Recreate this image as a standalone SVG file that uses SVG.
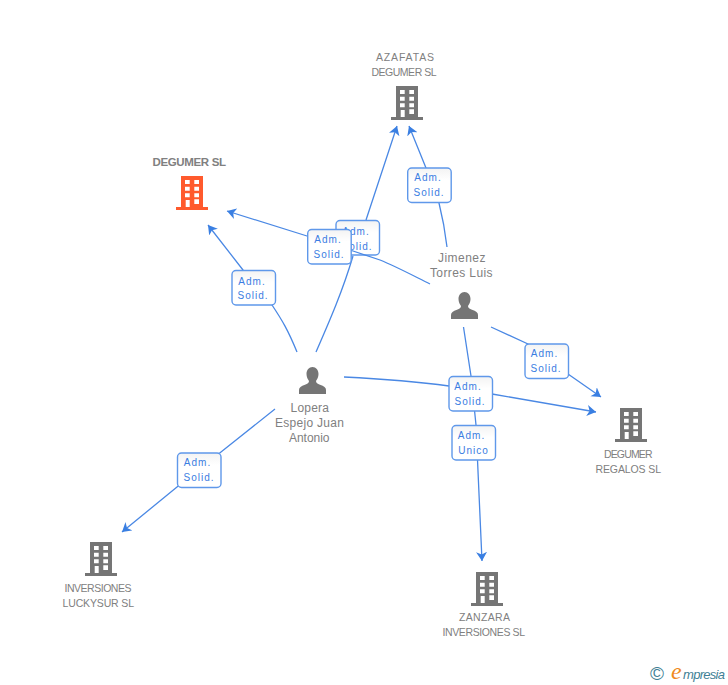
<svg xmlns="http://www.w3.org/2000/svg" width="728" height="685" viewBox="0 0 728 685">
<style>
text{font-family:"Liberation Sans",Arial,sans-serif}
.n{font-size:10.500px;fill:#808080}
.p{font-size:12px;fill:#808080}
.l{font-size:10px;fill:#3b7de2;text-anchor:middle;letter-spacing:1px}
.b{fill:url(#lg);stroke:#5f98ea;stroke-width:1.4}
.c{fill:none;stroke:#4a88e4;stroke-width:1.3;marker-end:url(#ah)}
</style>
<defs>
<linearGradient id="lg" x1="0" y1="0" x2="0" y2="1"><stop offset="0" stop-color="#f3f3f3"/><stop offset=".35" stop-color="#fff"/><stop offset="1" stop-color="#fff"/></linearGradient>
<marker id="ah" markerUnits="userSpaceOnUse" markerWidth="12" markerHeight="12" refX="9" refY="6" orient="auto"><path d="M0 .5L9 6L0 11.500L2.500 6Z" fill="#3a7fe2"/></marker>
<symbol id="bld" width="32" height="34" viewBox="0 0 32 34" overflow="visible">
<path fill-rule="evenodd" d="M5 0H27V31H32V34H0V31H5ZM9 4V8H13.700V4ZM18.300 4V8H23V4ZM9 10.700V14.700H13.700V10.700ZM18.300 10.700V14.700H23V10.700ZM9 17.300V21.300H13.700V17.300ZM18.300 17.300V21.300H23V17.300ZM9.700 24V31H13.700V24ZM18.300 23.300V28H23V23.300Z"/>
</symbol>
<symbol id="per" width="27" height="27" viewBox="0 0 27 27" overflow="visible">
<path d="M13.500 0C17 0 19.500 3 19.500 7C19.500 10 18.300 12.300 17 14C17 16 18.500 16.700 21 17.700C25 19 27 20.500 27 23V27H0V23C0 20.500 2 19 6 17.700C8.500 16.700 10 16 10 14C8.700 12.300 7.500 10 7.500 7C7.500 3 10 0 13.500 0Z"/>
</symbol>
</defs>
<rect width="728" height="685" fill="#fff"/>
<g id="label-1"><rect class="b" x="336" y="220.500" width="43.500" height="34.500" rx="4"/><text class="l" x="356" y="235">Adm.</text><text class="l" x="357" y="250">Solid.</text></g>
<g id="connectors">
<path class="c" d="M316 352C330 320 343 290 353 256M366 220L397 126"/>
<path class="c" d="M297 352C288 330 282 320 272 305L243 270L208 225"/>
<path class="c" d="M430 284C410 274 395 266 380 260L353 251L307 236L227 211"/>
<path class="c" d="M447 247C445 230 442 215 439 203L426 168L409 126"/>
<path class="c" d="M491 327L528 344L568 374L601 397"/>
<path class="c" d="M463.500 327L471 376L476 425C478 470 480 520 482 561"/>
<path class="c" d="M344 377C385 379 420 382 449 386L492 394L596 412"/>
<path class="c" d="M275 409L221 452L177 487L122 532"/>
</g>
<g id="node-degumer"><use href="#bld" x="176" y="176" fill="#ff5a2d"/><text x="152.500" y="166" font-size="11.500" font-weight="bold" fill="#808080" textLength="73.500">DEGUMER SL</text></g>
<g id="node-azafatas"><use href="#bld" x="391" y="86" fill="#757575"/><text class="n" x="376" y="61" textLength="58">AZAFATAS</text><text class="n" x="371.500" y="76" textLength="65">DEGUMER SL</text></g>
<g id="node-regalos"><use href="#bld" x="615" y="408" fill="#757575"/><text class="n" x="604" y="457.500" textLength="48.500">DEGUMER</text><text class="n" x="595.500" y="472.500" textLength="65.500">REGALOS SL</text></g>
<g id="node-lucky"><use href="#bld" x="85" y="542" fill="#757575"/><text class="n" x="64.500" y="592" textLength="67">INVERSIONES</text><text class="n" x="62.500" y="607" textLength="71.500">LUCKYSUR SL</text></g>
<g id="node-zanzara"><use href="#bld" x="471" y="572" fill="#757575"/><text class="n" x="459" y="621" textLength="51">ZANZARA</text><text class="n" x="442.500" y="636" textLength="82.500">INVERSIONES SL</text></g>
<g id="node-jimenez"><use href="#per" x="451" y="292" fill="#757575"/><text class="p" x="438" y="262" textLength="47.500">Jimenez</text><text class="p" x="430" y="277" textLength="62.500">Torres Luis</text></g>
<g id="node-lopera"><use href="#per" x="299" y="367" fill="#757575"/><text class="p" x="290.500" y="412" textLength="38.500">Lopera</text><text class="p" x="275" y="427" textLength="69">Espejo Juan</text><text class="p" x="289" y="442" textLength="40.500">Antonio</text></g>
<g id="label-2"><rect class="b" x="307.700" y="229.500" width="43.500" height="34.500" rx="4"/><text class="l" x="328" y="243">Adm.</text><text class="l" x="329" y="258">Solid.</text></g>
<g id="label-3"><rect class="b" x="407.700" y="168" width="43.500" height="34.500" rx="4"/><text class="l" x="428" y="181">Adm.</text><text class="l" x="429" y="196">Solid.</text></g>
<g id="label-4"><rect class="b" x="232" y="270.500" width="43.500" height="34.500" rx="4"/><text class="l" x="252" y="285">Adm.</text><text class="l" x="253" y="299">Solid.</text></g>
<g id="label-5"><rect class="b" x="525" y="344" width="43.500" height="34.500" rx="4"/><text class="l" x="544.500" y="357">Adm.</text><text class="l" x="546" y="372">Solid.</text></g>
<g id="label-6"><rect class="b" x="449" y="376.500" width="43.500" height="34.500" rx="4"/><text class="l" x="468" y="390">Adm.</text><text class="l" x="470" y="405">Solid.</text></g>
<g id="label-7"><rect class="b" x="452" y="425.500" width="43.500" height="34.500" rx="4"/><text class="l" x="471.500" y="439">Adm.</text><text class="l" x="473.500" y="454">Unico</text></g>
<g id="label-8"><rect class="b" x="177.500" y="453" width="43.500" height="34.500" rx="4"/><text class="l" x="197.500" y="466">Adm.</text><text class="l" x="199" y="481">Solid.</text></g>
<g id="logo"><text x="650" y="680" font-size="19" fill="#3f7f95">©</text><text x="671" y="679" font-size="24" font-style="italic" fill="#f08a1d" style="font-family:'Liberation Serif',serif">e</text><text x="683" y="679" font-size="13" font-style="italic" fill="#3f7f95" textLength="42">mpresia</text></g>
</svg>
